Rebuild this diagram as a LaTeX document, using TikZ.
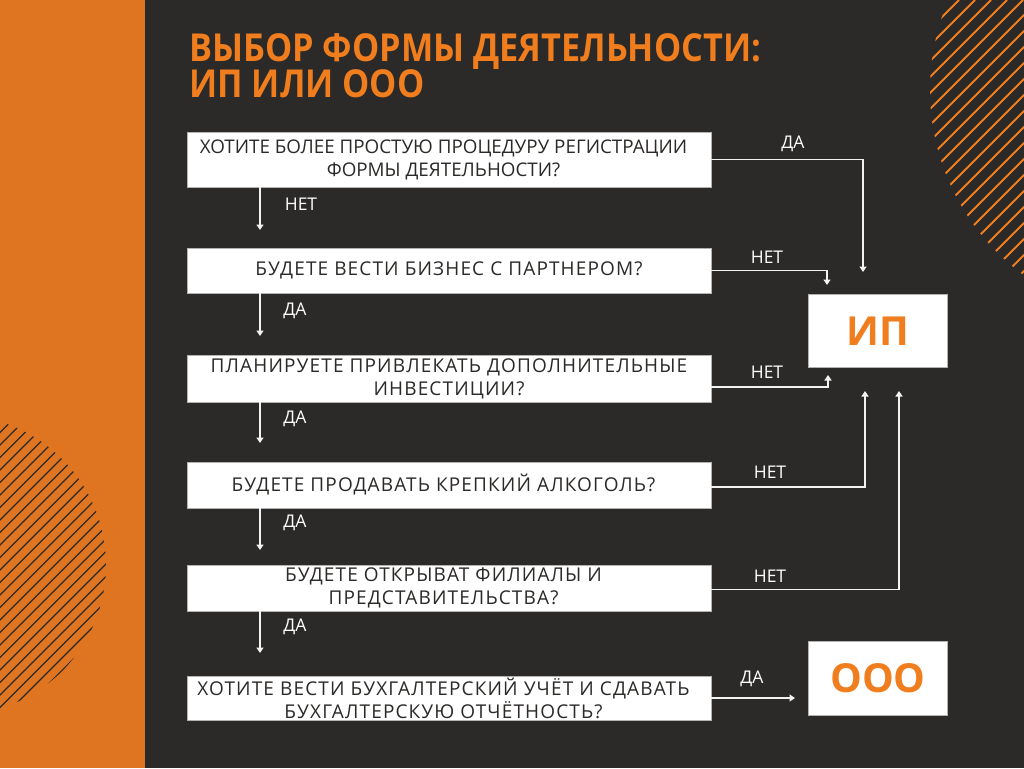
\documentclass[tikz,border=0pt]{standalone}
\usepackage{fontspec}
\setmainfont{Open Sans}
\newfontfamily\spacedfont[LetterSpace=6]{Open Sans}
\usetikzlibrary{arrows.meta}
\definecolor{bg}{HTML}{2B2A28}
\definecolor{strip}{HTML}{E07521}
\definecolor{accent}{HTML}{F07D1E}
\definecolor{lineclr}{HTML}{F2F2F2}
\newcommand{\padr}{\hspace*{11pt}}
\begin{document}
\begin{tikzpicture}[x=1pt,y=-1pt,
  qbox/.style={draw=gray!60, line width=0.8pt, fill=white, minimum width=524pt, inner sep=0pt, align=center, text=bg},
  plainq/.style={qbox, font=\fontsize{18.8}{23}\selectfont},
  spacedq/.style={qbox, font=\spacedfont\fontsize{19}{23}\selectfont},
  resbox/.style={draw=gray!60, line width=0.8pt, fill=white, minimum width=139pt, inner sep=0pt, text=accent, font=\bfseries\fontsize{40}{40}\selectfont},
  lab/.style={text=white, inner sep=0pt, font=\fontsize{17.5}{17.5}\selectfont},
  arr/.style={draw=lineclr, line width=1.6pt, -{Triangle[width=7pt,length=5.5pt]}},
  ttl/.style={text=accent, inner sep=0pt, anchor=base west, font=\bfseries\fontsize{38.5}{38.5}\selectfont}
]
\useasboundingbox (0,0) rectangle (1024,768);
\fill[bg] (0,0) rectangle (1024,768);
\fill[strip] (0,0) rectangle (145,768);

% hatched circle top right
\begin{scope}
  \clip (0,0) rectangle (1024,768);
  \clip (1160,90) circle (230);
  \foreach \c in {927,943,...,1500} {
    \draw[accent, line width=1.8pt] (\c,0) -- ({\c-500},500);
  }
\end{scope}
% hatched circle bottom left
\begin{scope}
  \clip (0,0) rectangle (145,768);
  \clip (-44,565) circle (150);
  \foreach \c in {370,382.5,...,800} {
    \draw[bg, line width=1.3pt] (\c,0) -- ({\c-800},800);
  }
\end{scope}

% title
\node[ttl] (title1) at (189,61) {\scalebox{0.89}[1]{ВЫБОР ФОРМЫ ДЕЯТЕЛЬНОСТИ:}};
\node[ttl] (title2) at (189,97) {\scalebox{0.89}[1]{ИП ИЛИ ООО}};

% question boxes
\node[plainq, minimum height=55pt] (q1) at (449,159.5) {ХОТИТЕ БОЛЕЕ ПРОСТУЮ ПРОЦЕДУРУ РЕГИСТРАЦИИ\padr\\ФОРМЫ ДЕЯТЕЛЬНОСТИ?\padr};
\node[spacedq, minimum height=45pt] (q2) at (449,270.5) {БУДЕТЕ ВЕСТИ БИЗНЕС С ПАРТНЕРОМ?};
\node[spacedq, minimum height=47pt] (q3) at (449,378.5) {ПЛАНИРУЕТЕ ПРИВЛЕКАТЬ ДОПОЛНИТЕЛЬНЫЕ\\ИНВЕСТИЦИИ?};
\node[spacedq, minimum height=46pt] (q4) at (449,485) {БУДЕТЕ ПРОДАВАТЬ КРЕПКИЙ АЛКОГОЛЬ?\padr};
\node[spacedq, minimum height=46pt] (q5) at (449,588) {БУДЕТЕ ОТКРЫВАТ ФИЛИАЛЫ И\padr\\ПРЕДСТАВИТЕЛЬСТВА?\padr};
\node[spacedq, minimum height=44pt] (q6) at (449,698) {ХОТИТЕ ВЕСТИ БУХГАЛТЕРСКИЙ УЧЁТ И СДАВАТЬ\padr\\БУХГАЛТЕРСКУЮ ОТЧЁТНОСТЬ?\padr};

% result boxes
\node[resbox, minimum height=73pt] (ip) at (878,331) {ИП};
\node[resbox, minimum height=74pt] (ooo) at (878,678) {ООО};

% arrow end points
\coordinate (d1) at (260,230);
\coordinate (d2) at (260,336);
\coordinate (d3) at (260,443);
\coordinate (d4) at (260,550);
\coordinate (d5) at (260,653);
\coordinate (a1) at (863,272);
\coordinate (a2) at (827,285);
\coordinate (a3) at (828,375);
\coordinate (a4) at (865,391);
\coordinate (a5) at (899,391);
\coordinate (a6) at (795,698);

% down connectors
\draw[arr] (q1.south -| d1) -- (d1);
\draw[arr] (q2.south -| d2) -- (d2);
\draw[arr] (q3.south -| d3) -- (d3);
\draw[arr] (q4.south -| d4) -- (d4);
\draw[arr] (q5.south -| d5) -- (d5);

% right connectors
\draw[arr] (q1.east) -| (a1);
\draw[arr] (q2.east) -| (a2);
\draw[arr] ([yshift=-8.5pt]q3.east) -| (a3);
\draw[arr] ([yshift=-2pt]q4.east) -| (a4);
\draw[arr] ([yshift=-1.5pt]q5.east) -| (a5);
\draw[arr] (q6.east) -- (a6);

% labels
\node[lab] (l1) at (301,204) {НЕТ};
\node[lab] (l2) at (295,311) {ДА};
\node[lab] (l3) at (295,419) {ДА};
\node[lab] (l4) at (295,523) {ДА};
\node[lab] (l5) at (295,627) {ДА};
\node[lab] (r1) at (793,144) {ДА};
\node[lab] (r2) at (767,257) {НЕТ};
\node[lab] (r3) at (767,372) {НЕТ};
\node[lab] (r4) at (770,472) {НЕТ};
\node[lab] (r5) at (770,576) {НЕТ};
\node[lab] (r6) at (752,679) {ДА};
\end{tikzpicture}
\end{document}
